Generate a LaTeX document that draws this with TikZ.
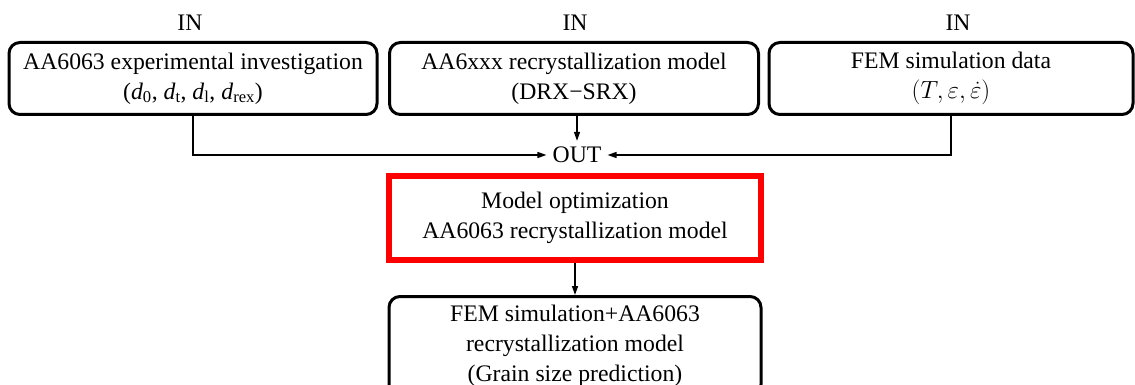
\documentclass[tikz,border=0pt]{standalone}
\usepackage{fontspec}
\setmainfont{Liberation Serif}
\usetikzlibrary{arrows.meta}
\tikzset{
  box/.style={draw=black, line width=3pt, rounded corners=11pt, align=center,
    inner sep=0pt},
  redbox/.style={draw=red, line width=6.5pt, align=center, inner sep=0pt},
  lbl/.style={inner sep=0pt},
  conn/.style={line width=1.3pt, -{Triangle[length=9pt,width=6pt]}},
  plain/.style={line width=1.3pt}
}
\begin{document}
\begin{tikzpicture}[x=1pt, y=-1pt,
  every node/.style={font=\fontsize{23.7}{30}\selectfont}]
  \clip (0,0) rectangle (1135,385);
  \fill[white] (0,0) rectangle (1135,385);

  % input labels
  \node[lbl] (in1) at (190,23) {IN};
  \node[lbl] (in2) at (575,23) {IN};
  \node[lbl] (in3) at (958,23) {IN};

  % input boxes
  \node[box, minimum width=368pt, minimum height=72pt] (exp) at (193,78.5)
    {AA6063 experimental investigation\\
     (\textit{d}\textsubscript{0}, \textit{d}\textsubscript{t},
      \textit{d}\textsubscript{l}, \textit{d}\textsubscript{rex})};
  \node[box, minimum width=369pt, minimum height=72pt] (rxm) at (574,78.5)
    {AA6xxx recrystallization model\\(DRX−SRX)};
  \node[box, minimum width=364pt, minimum height=72pt] (fem) at (951,78.5)
    {FEM simulation data\\$(T, \varepsilon, \dot{\varepsilon})$};

  % output junction
  \node[inner sep=6pt] (out) at (577,155) {OUT};

  % optimisation step
  \node[redbox, minimum width=372pt, minimum height=84pt] (opt) at (575,218)
    {Model optimization\\AA6063 recrystallization model};

  % prediction box (runs off the bottom edge)
  \node[box, minimum width=372pt, minimum height=99pt] (pred) at (575,346)
    {FEM simulation+AA6063\\recrystallization model\\(Grain size prediction)};

  % connectors
  \draw[conn] (exp.south) |- (out.west);
  \draw[conn] (fem.south) |- (out.east);
  \draw[conn] (out.north |- rxm.south) -- (out.north);
  \draw[conn] (opt.south) -- (pred.north);
\end{tikzpicture}
\end{document}
